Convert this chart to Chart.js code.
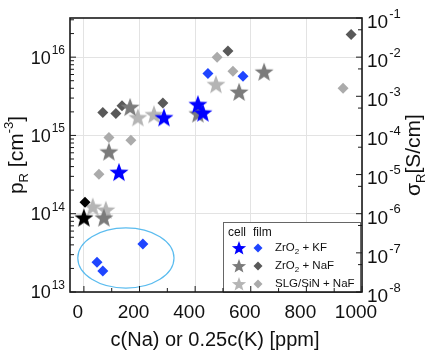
<!DOCTYPE html>
<html>
<head>
<meta charset="utf-8">
<script src="https://cdn.jsdelivr.net/npm/chart.js@4.4.1/dist/chart.umd.min.js"></script>
<style>
  html, body { margin: 0; padding: 0; background: #fff; }
</style>
</head>
<body>
<canvas id="chart" width="433" height="354"></canvas>
<script>
// Data: x = c(Na) or 0.25c(K) [ppm], y = p_R [cm^-3]
const refCellX = [0];
const refCellY = [8.9e13];
const refFilmX = [4];
const refFilmY = [1.4e14];

const kfCellX = [126, 288, 410, 428];
const kfCellY = [3.4e14, 1.7e15, 2.5e15, 1.95e15];
const kfFilmX = [47, 68, 212, 446, 572];
const kfFilmY = [2.4e13, 1.86e13, 4.1e13, 6.2e15, 5.7e15];

const nafCellX = [72, 90, 166, 410, 558, 648];
const nafCellY = [8.9e13, 6.2e14, 2.3e15, 1.9e15, 3.6e15, 6.5e15];
const nafFilmX = [68, 115, 137, 284, 518, 961];
const nafFilmY = [1.96e15, 1.9e15, 2.4e15, 2.6e15, 1.2e16, 1.95e16];

const slgCellX = [32, 79, 194, 252, 475];
const slgCellY = [1.23e14, 1.12e14, 1.7e15, 1.86e15, 4.5e15];
const slgFilmX = [54, 90, 169, 479, 536, 932];
const slgFilmY = [3.2e14, 9.4e14, 8.7e14, 1.0e16, 6.6e15, 4.0e15];

// Axis ticks
const xTicks = [0, 200, 400, 600, 800, 1000];
const xMinorTicks = [100, 300, 500, 700, 900];
const pTicks = [1e13, 1e14, 1e15, 1e16];
const sigmaTicks = [1e-8, 1e-7, 1e-6, 1e-5, 1e-4, 1e-3, 1e-2, 1e-1];

// Ellipse around the KF film points (data units)
const ellipseX = [-22, 324];
const ellipseY = [1.12e13, 6.6e13];

// Legend rows
const legendLabels = [['ZrO', '2', ' + KF'], ['ZrO', '2', ' + NaF'], ['SLG/SiN + NaF', '', '']];

const FONT = '"Liberation Sans", Arial, sans-serif';
const BLUE_STAR = '#0000ff', BLUE_DIA = '#1f45ff';
const DARK_STAR = '#7b7b7b', DARK_DIA = '#595959';
const LIGHT_STAR = '#b5b5b5', LIGHT_DIA = '#ababab';

function pts(xs, ys) {
  return xs.map((x, i) => ({ x: x, y: ys[i] }));
}

function starPath(ctx, cx, cy, r) {
  const inner = r * 0.42;
  ctx.beginPath();
  for (let i = 0; i < 10; i++) {
    const rad = i % 2 === 0 ? r : inner;
    const a = -Math.PI / 2 + i * Math.PI / 5;
    const px = cx + rad * Math.cos(a);
    const py = cy + rad * Math.sin(a);
    if (i === 0) ctx.moveTo(px, py); else ctx.lineTo(px, py);
  }
  ctx.closePath();
}

function diamondPath(ctx, cx, cy, r) {
  ctx.beginPath();
  ctx.moveTo(cx - r, cy);
  ctx.lineTo(cx, cy - r);
  ctx.lineTo(cx + r, cy);
  ctx.lineTo(cx, cy + r);
  ctx.closePath();
}

// star marker as an image for pointStyle
function makeStar(color, r) {
  const c = document.createElement('canvas');
  const s = Math.ceil(2 * r + 2);
  c.width = s; c.height = s;
  const ctx = c.getContext('2d');
  ctx.fillStyle = color;
  starPath(ctx, s / 2, s / 2 + 0.8, r);
  ctx.fill();
  return c;
}

function starSet(label, xs, ys, color) {
  return { label: label, data: pts(xs, ys), pointStyle: makeStar(color, 10), pointRadius: 10 };
}

function diaSet(label, xs, ys, color) {
  return {
    label: label, data: pts(xs, ys), pointStyle: 'rectRot', pointRadius: 5.5,
    backgroundColor: color, borderColor: color, borderWidth: 0
  };
}

// draw "10" with a superscript exponent
function drawPow(ctx, x, y, exp, size, align) {
  const base = '10', sup = String(exp);
  const supSize = Math.round(size * 0.68);
  ctx.font = size + 'px ' + FONT;
  const wb = ctx.measureText(base).width;
  ctx.font = supSize + 'px ' + FONT;
  const ws = ctx.measureText(sup).width;
  let x0 = x;
  if (align === 'right') x0 = x - wb - ws - 1;
  ctx.textAlign = 'left';
  ctx.textBaseline = 'alphabetic';
  ctx.font = size + 'px ' + FONT;
  ctx.fillText(base, x0, y + size * 0.36);
  ctx.font = supSize + 'px ' + FONT;
  ctx.fillText(sup, x0 + wb + 1, y - size * 0.17);
}

// draw a sequence of [text, size, dy] pieces starting at x, y
function drawRich(ctx, parts, x, y) {
  let cx = x;
  parts.forEach(p => {
    ctx.font = p[1] + 'px ' + FONT;
    ctx.fillText(p[0], cx, y + p[2]);
    cx += ctx.measureText(p[0]).width;
  });
}

function richWidth(ctx, parts) {
  let w = 0;
  parts.forEach(p => {
    ctx.font = p[1] + 'px ' + FONT;
    w += ctx.measureText(p[0]).width;
  });
  return w;
}

const decor = {
  id: 'decor',
  beforeDatasetsDraw(chart) {
    const ctx = chart.ctx;
    const xs = chart.scales.x, ys = chart.scales.y;
    const x1 = xs.getPixelForValue(ellipseX[0]), x2 = xs.getPixelForValue(ellipseX[1]);
    const y1 = ys.getPixelForValue(ellipseY[0]), y2 = ys.getPixelForValue(ellipseY[1]);
    ctx.save();
    ctx.strokeStyle = '#5bbcef';
    ctx.lineWidth = 1.2;
    ctx.beginPath();
    ctx.ellipse((x1 + x2) / 2, (y1 + y2) / 2, Math.abs(x2 - x1) / 2, Math.abs(y2 - y1) / 2, 0, 0, Math.PI * 2);
    ctx.stroke();
    ctx.restore();
  },
  afterDatasetsDraw(chart) {
    const ctx = chart.ctx;
    const a = chart.chartArea;
    const xs = chart.scales.x, ys = chart.scales.y, ys2 = chart.scales.y2;
    ctx.save();

    // legend box
    const lx = 223, ly = 222, lw = a.right - 2 - lx, lh = a.bottom - ly;
    ctx.fillStyle = '#fff';
    ctx.fillRect(lx, ly, lw, lh);
    ctx.strokeStyle = '#666';
    ctx.lineWidth = 1;
    ctx.strokeRect(lx + 0.5, ly + 0.5, lw, lh);
    ctx.fillStyle = '#111';
    ctx.textBaseline = 'middle';
    ctx.textAlign = 'left';
    ctx.font = '12px ' + FONT;
    ctx.fillText('cell', 228, 233);
    ctx.fillText('film', 253, 233);
    const rowColors = [[BLUE_STAR, BLUE_DIA], [DARK_STAR, DARK_DIA], [LIGHT_STAR, LIGHT_DIA]];
    const rowY = [248, 266, 284];
    legendLabels.forEach((lab, i) => {
      ctx.fillStyle = rowColors[i][0];
      starPath(ctx, 239, rowY[i] + 0.5, 7.5);
      ctx.fill();
      ctx.fillStyle = rowColors[i][1];
      diamondPath(ctx, 258, rowY[i], 4.5);
      ctx.fill();
      ctx.fillStyle = '#111';
      drawRich(ctx, [[lab[0], 11.5, 0], [lab[1], 8, 4], [lab[2], 11.5, 0]], 275, rowY[i]);
    });

    // frame
    ctx.strokeStyle = '#1a1a1a';
    ctx.lineWidth = 1.6;
    ctx.strokeRect(a.left, a.top, a.right - a.left, a.bottom - a.top);

    // inward tick marks
    ctx.lineWidth = 1;
    ctx.beginPath();
    xTicks.forEach(v => {
      const px = xs.getPixelForValue(v);
      ctx.moveTo(px, a.bottom); ctx.lineTo(px, a.bottom - 6);
    });
    xMinorTicks.forEach(v => {
      const px = xs.getPixelForValue(v);
      ctx.moveTo(px, a.bottom); ctx.lineTo(px, a.bottom - 4);
    });
    pTicks.forEach(v => {
      const py = ys.getPixelForValue(v);
      ctx.moveTo(a.left, py); ctx.lineTo(a.left + 6, py);
      for (let m = 2; m <= 9; m++) {
        const mv = v * m;
        if (mv > ys.max) break;
        const my = ys.getPixelForValue(mv);
        ctx.moveTo(a.left, my); ctx.lineTo(a.left + 4, my);
      }
    });
    sigmaTicks.forEach(v => {
      const py = ys2.getPixelForValue(v);
      ctx.moveTo(a.right, py); ctx.lineTo(a.right - 6, py);
      if (v * 5 < ys2.max) {
        const my = ys2.getPixelForValue(v * 5);
        ctx.moveTo(a.right, my); ctx.lineTo(a.right - 4, my);
      }
    });
    ctx.stroke();

    // tick labels
    ctx.fillStyle = '#111';
    pTicks.forEach(v => {
      drawPow(ctx, a.left - 5, ys.getPixelForValue(v), Math.round(Math.log10(v)), 18, 'right');
    });
    sigmaTicks.forEach(v => {
      drawPow(ctx, a.right + 5, ys2.getPixelForValue(v) + 3, Math.round(Math.log10(v)), 19, 'left');
    });
    ctx.font = '19px ' + FONT;
    ctx.textAlign = 'center';
    ctx.textBaseline = 'alphabetic';
    xTicks.forEach(v => {
      ctx.fillText(String(v), xs.getPixelForValue(v) - 6, 318);
    });

    // axis titles
    ctx.font = '20px ' + FONT;
    ctx.fillText('c(Na) or 0.25c(K) [ppm]', 215, 346);

    ctx.textAlign = 'left';
    const leftTitle = [['p', 21, 0], ['R', 13, 5], [' [cm', 21, 0], ['-3', 13, -10], [']', 21, 0]];
    ctx.save();
    ctx.translate(23, (a.top + a.bottom) / 2);
    ctx.rotate(-Math.PI / 2);
    drawRich(ctx, leftTitle, -richWidth(ctx, leftTitle) / 2, 0);
    ctx.restore();

    const rightTitle = [['\u03c3', 21, 0], ['R', 13, 5], ['[S/cm]', 21, 0]];
    ctx.save();
    ctx.translate(420, (a.top + a.bottom) / 2);
    ctx.rotate(-Math.PI / 2);
    drawRich(ctx, rightTitle, -richWidth(ctx, rightTitle) / 2, 0);
    ctx.restore();

    ctx.restore();
  }
};

const datasets = [
  starSet('ref cell', refCellX, refCellY, '#000000'),
  diaSet('ref film', refFilmX, refFilmY, '#000000'),
  starSet('ZrO2 + KF cell', kfCellX, kfCellY, BLUE_STAR),
  starSet('ZrO2 + NaF cell', nafCellX, nafCellY, DARK_STAR),
  starSet('SLG/SiN + NaF cell', slgCellX, slgCellY, LIGHT_STAR),
  diaSet('ZrO2 + KF film', kfFilmX, kfFilmY, BLUE_DIA),
  diaSet('ZrO2 + NaF film', nafFilmX, nafFilmY, DARK_DIA),
  diaSet('SLG/SiN + NaF film', slgFilmX, slgFilmY, LIGHT_DIA)
];

new Chart(document.getElementById('chart'), {
  type: 'scatter',
  data: { datasets: datasets },
  options: {
    responsive: false,
    animation: false,
    layout: { padding: { top: 18, left: 0, right: 0, bottom: 0 } },
    plugins: { legend: { display: false }, tooltip: { enabled: false } },
    scales: {
      x: {
        type: 'linear', min: -50, max: 1000,
        afterBuildTicks: s => { s.ticks = xTicks.map(v => ({ value: v })); },
        afterFit: s => { s.height = 62; },
        ticks: { display: false },
        border: { display: false },
        grid: { color: '#e3e3e3', drawTicks: false }
      },
      y: {
        type: 'logarithmic', position: 'left', min: pTicks[0], max: Math.pow(10, 16.5),
        afterBuildTicks: s => { s.ticks = pTicks.map(v => ({ value: v })); },
        afterFit: s => { s.width = 70; },
        ticks: { display: false },
        border: { display: false },
        grid: { color: '#e3e3e3', drawTicks: false }
      },
      y2: {
        type: 'logarithmic', position: 'right',
        min: sigmaTicks[0], max: sigmaTicks[sigmaTicks.length - 1],
        afterBuildTicks: s => { s.ticks = sigmaTicks.map(v => ({ value: v })); },
        afterFit: s => { s.width = 71; },
        ticks: { display: false },
        border: { display: false },
        grid: { drawOnChartArea: false, drawTicks: false }
      }
    }
  },
  plugins: [decor]
});
</script>
</body>
</html>
